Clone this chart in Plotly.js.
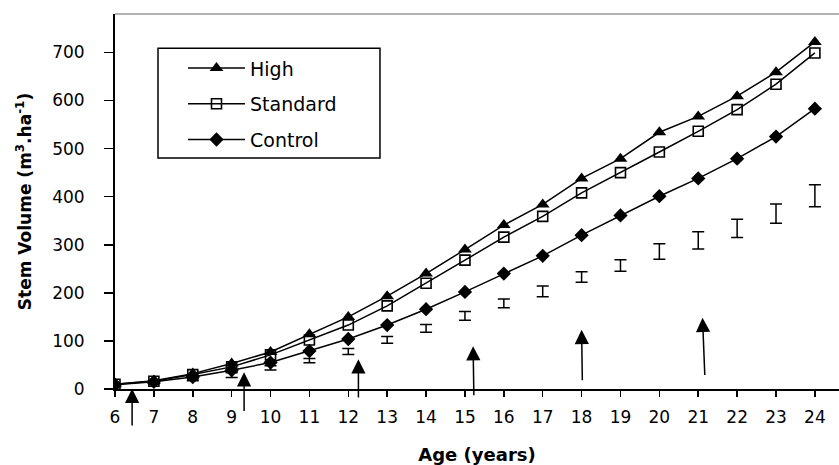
<!DOCTYPE html>
<html>
<head>
<meta charset="utf-8">
<script src="https://cdn.plot.ly/plotly-3.0.1.min.js"></script>
<style>html,body{margin:0;padding:0;background:#fff;}#chart{width:839px;height:465px;}</style>
</head>
<body>
<div id="chart"></div>
<script>
const ages = [6,7,8,9,10,11,12,13,14,15,16,17,18,19,20,21,22,23,24];
const high = [10,17,32,53,77,114,150,193,240,290,341,384,438,479,534,567,609,659,722];
const standard = [10,16,30,46,71,102,133,173,220,268,316,359,408,450,493,536,581,634,699];
const control = [9,15,25,39,55,79,104,133,166,202,240,277,320,361,401,438,479,525,583];
const barMid = [8,13,20,29,44,59,78,102,126,152,178,203,233,257,286,309,334,365,402];
const barErr = [2,2,3,5,4.5,4.5,6,7,8,9,9,11,11,12,16,18,19,20,23];
const arrowAge = [6.44,9.32,12.26,15.21,18.0,21.11];
const arrowTailAge = [6.44,9.32,12.26,15.23,18.02,21.17];
const arrowTip = [0.5,35,62,89,123,148];
const arrowTail = [-79,-49,-21,-16,15,26];
const yTicks = [0,100,200,300,400,500,600,700];

const font = "'DejaVu Sans', Arial, sans-serif";
const traces = [
  {x: ages, y: high, name: 'High', mode: 'lines+markers', legendgroup: 'a',
   line: {color: '#000', width: 1.5}, marker: {symbol: 'triangle-up', size: 12, color: '#000'}},
  {x: ages, y: standard, name: 'Standard', mode: 'lines+markers', legendgroup: 'b',
   line: {color: '#000', width: 1.5}, marker: {symbol: 'square-open', size: 10, color: '#000', line: {width: 1.6, color: '#000'}}},
  {x: ages, y: control, name: 'Control', mode: 'lines+markers', legendgroup: 'c',
   line: {color: '#000', width: 1.5}, marker: {symbol: 'diamond', size: 11, color: '#000'}},
  {x: ages, y: barMid, mode: 'markers', showlegend: false, hoverinfo: 'skip',
   marker: {size: 1, color: 'rgba(0,0,0,0)'},
   error_y: {type: 'data', array: barErr, visible: true, color: '#000', thickness: 1.5, width: 6}}
];

const annotations = arrowAge.map((a, i) => ({
  x: a, y: arrowTip[i], ax: arrowTailAge[i], ay: arrowTail[i], axref: 'x', ayref: 'y', xref: 'x', yref: 'y',
  showarrow: true, arrowhead: 2, arrowsize: 1.9, arrowwidth: 1.5, arrowcolor: '#000', text: '', standoff: 0
}));

const layout = {
  width: 839, height: 465,
  margin: {l: 115, r: 0, t: 14, b: 76},
  paper_bgcolor: '#fff', plot_bgcolor: '#fff',
  font: {family: font, color: '#000', size: 17},
  showlegend: true,
  legend: {x: 0.0594, y: 0.906, xanchor: 'left', yanchor: 'top', borderwidth: 0,
    bgcolor: 'rgba(0,0,0,0)', font: {size: 19, family: font}, tracegroupgap: 8, itemwidth: 57, indentation: 25},
  xaxis: {range: [6, 24.62], tickvals: ages, ticktext: ages.map(String), showgrid: false, zeroline: false,
    showline: true, linecolor: '#000', linewidth: 2, ticks: 'outside', ticklen: 6, tickwidth: 1.5, tickcolor: '#000',
    ticklabelstandoff: 6, tickfont: {size: 17},
    title: {text: '<b>Age (years)</b>', font: {size: 18}, standoff: 22}},
  yaxis: {range: [0, 780], tickvals: yTicks, showgrid: false, zeroline: false,
    showline: true, linecolor: '#000', linewidth: 2, ticks: 'outside', ticklen: 9, tickwidth: 1.5, tickcolor: '#000',
    ticklabelstandoff: 16, tickfont: {size: 17},
    title: {text: '<b>Stem Volume (m<sup>3</sup>.ha<sup>-1</sup>)</b>', font: {size: 17}, standoff: 16}},
  shapes: [
    {type: 'line', xref: 'paper', yref: 'paper', x0: 0, x1: 1, y0: 1, y1: 1, line: {color: '#999', width: 1.5}},
    {type: 'rect', xref: 'paper', yref: 'paper', x0: 0.0594, x1: 0.366, y0: 0.616, y1: 0.909, line: {color: '#000', width: 1.5}}
  ],
  annotations: annotations
};
Plotly.newPlot('chart', traces, layout, {displayModeBar: false, staticPlot: true});
</script>
</body>
</html>
